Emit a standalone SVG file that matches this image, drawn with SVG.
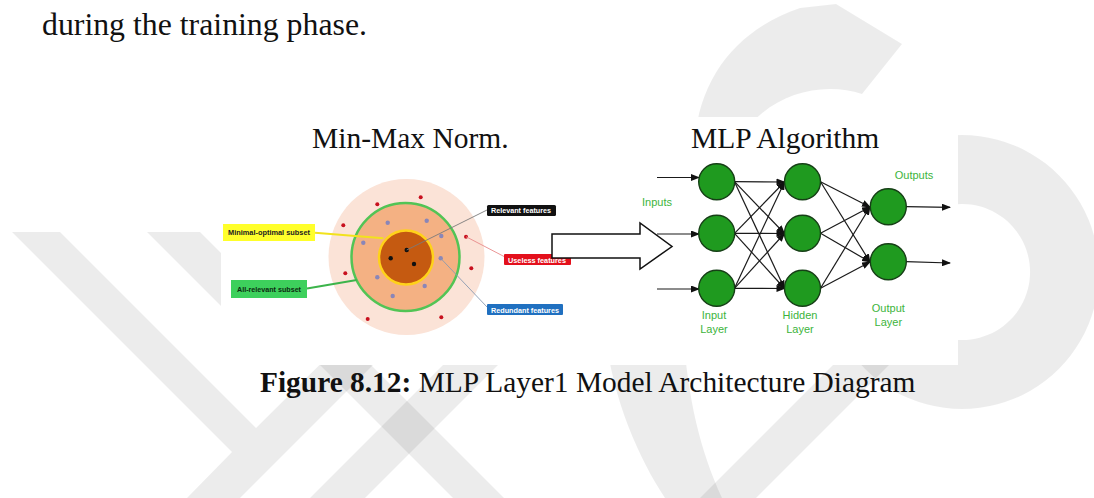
<svg xmlns="http://www.w3.org/2000/svg" width="1094" height="498" viewBox="0 0 1094 498">
<defs>
<style>
.wm{fill:#000;fill-opacity:0.075}
.serif{font-family:"Liberation Serif","Times New Roman",serif;fill:#111}
.lbl{font-family:"Liberation Sans",Arial,sans-serif;font-weight:bold;font-size:7px}
.g{font-family:"Liberation Sans",Arial,sans-serif;font-size:11px;fill:#3cb43c;text-anchor:middle}
.node{fill:#1f9a1f;stroke:#163f16;stroke-width:1.4}
.edge{stroke:#1a1a1a;stroke-width:1.2;fill:none;marker-end:url(#ah)}
.rdot{fill:#c8101e}
.pdot{fill:#8a86b8}
.bdot{fill:#111}
</style>
<marker id="ah" markerUnits="userSpaceOnUse" markerWidth="9" markerHeight="7" refX="8" refY="3.5" orient="auto"><path d="M0,0 L9,3.5 L0,7 Z" fill="#111"/></marker>
</defs>
<rect width="1094" height="498" fill="#fff"/>
<g id="watermark">
<path class="wm" d="M695,140 C700,75 740,28 800,8 L836,4 L902,44 L862,94 C820,80 765,95 740,140 Z"/>
<path class="wm" fill-rule="evenodd" d="M962,135 A137,137 0 1,1 961.9,135 Z M962,204 A68,68 0 1,0 962.1,204 Z"/>
<polygon class="wm" points="12,232 60,232 256,428 420,265 473,265 240,498 187,498 232,452"/>
<polygon class="wm" points="147,232 200,232 330,362 277,362"/>
<polygon class="wm" points="310,498 365,498 563,300 508,300"/>
<polygon class="wm" points="285,330 336,330 504,498 453,498"/>
<path class="wm" d="M605,330 C612,400 640,460 665,498 L722,498 C700,450 688,400 683,330 Z"/>
<polygon class="wm" points="700,498 756,498 889,365 833,365"/>
</g>
<rect id="figure-bg" x="221" y="117" width="737" height="248" fill="#fff"/>
<text class="serif" x="42" y="35" font-size="31.8">during the training phase.</text>
<text class="serif" x="312" y="148" font-size="29.5">Min-Max Norm.</text>
<text class="serif" x="691" y="148" font-size="29.5">MLP Algorithm</text>
<g id="feature-diagram">
<circle cx="406.5" cy="257" r="78" fill="#fbe3d7"/>
<circle cx="405.5" cy="257" r="54" fill="#f4b183" stroke="#52c455" stroke-width="2.5"/>
<circle cx="406" cy="257.5" r="27" fill="#c55a11" stroke="#ffd21a" stroke-width="2.5"/>
<g id="dots">
<circle class="rdot" cx="377.3" cy="204.3" r="2"/>
<circle class="rdot" cx="420.7" cy="197.3" r="2"/>
<circle class="rdot" cx="343.3" cy="225.3" r="2"/>
<circle class="rdot" cx="466" cy="236.7" r="2"/>
<circle class="rdot" cx="345.3" cy="273.3" r="2"/>
<circle class="rdot" cx="471.3" cy="268.3" r="2"/>
<circle class="rdot" cx="367.7" cy="319" r="2"/>
<circle class="rdot" cx="441.3" cy="317.3" r="2"/>
<circle class="pdot" cx="387.7" cy="222.7" r="2.2"/>
<circle class="pdot" cx="426.7" cy="220.7" r="2.2"/>
<circle class="pdot" cx="363.3" cy="242.7" r="2.2"/>
<circle class="pdot" cx="441.3" cy="236" r="2.2"/>
<circle class="pdot" cx="440.7" cy="258.3" r="2.2"/>
<circle class="pdot" cx="377.3" cy="277.3" r="2.2"/>
<circle class="pdot" cx="424.7" cy="286" r="2.2"/>
<circle class="pdot" cx="392.7" cy="296" r="2.2"/>
<circle class="bdot" cx="406.7" cy="250" r="2.2"/>
<circle class="bdot" cx="390.7" cy="258.3" r="2.2"/>
<circle class="bdot" cx="414" cy="264" r="2.2"/>
</g>
<g id="leaders">
<line x1="315" y1="232.7" x2="383.3" y2="238.3" stroke="#f2e21c" stroke-width="2"/>
<line x1="307" y1="288.5" x2="356.7" y2="280" stroke="#3cb44b" stroke-width="2"/>
<line x1="406.7" y1="250" x2="487" y2="210" stroke="#7a7a7a" stroke-width="0.9"/>
<line x1="466" y1="236.7" x2="505" y2="257" stroke="#e88a8a" stroke-width="0.9"/>
<line x1="440.7" y1="258.3" x2="487" y2="307" stroke="#8a9ab0" stroke-width="0.9"/>
</g>
<g id="label-minimal"><rect x="223" y="224" width="92" height="17" fill="#ffff2a"/><text class="lbl" x="228" y="235" fill="#222" textLength="82" lengthAdjust="spacingAndGlyphs">Minimal-optimal subset</text></g>
<g id="label-allrelevant"><rect x="231" y="280" width="76" height="18" fill="#3dd05c"/><text class="lbl" x="237" y="291.5" fill="#0c2a10" textLength="64" lengthAdjust="spacingAndGlyphs">All-relevant subset</text></g>
<g id="label-relevant"><rect x="487" y="205" width="69" height="11" rx="1.5" fill="#111"/><text class="lbl" x="491" y="213" fill="#fff" font-size="6" textLength="60" lengthAdjust="spacingAndGlyphs">Relevant features</text></g>
<g id="label-useless"><rect x="504" y="254" width="67" height="11" rx="1" fill="#e3101c"/><text class="lbl" x="508" y="262.5" fill="#fff" font-size="6" textLength="58" lengthAdjust="spacingAndGlyphs">Useless features</text></g>
<g id="label-redundant"><rect x="487" y="304" width="76" height="11" rx="1" fill="#2070c0"/><text class="lbl" x="491" y="312.5" fill="#fff" font-size="6" textLength="68" lengthAdjust="spacingAndGlyphs">Redundant features</text></g>
</g>
<g id="big-arrow"><path d="M552,234 L640,234 L640,223 L672,246.5 L640,269 L640,258 L552,258 Z" fill="#fff" stroke="#111" stroke-width="1.5" stroke-linejoin="miter"/></g>
<g id="connectors">
<line class="edge" x1="657" y1="177.5" x2="699" y2="177.5"/>
<line class="edge" x1="657" y1="234" x2="699" y2="234"/>
<line class="edge" x1="657" y1="289" x2="699" y2="289"/>
<line class="edge" x1="734.5" y1="181.7" x2="784.5" y2="182"/>
<line class="edge" x1="734.5" y1="181.7" x2="784.5" y2="233.5"/>
<line class="edge" x1="734.5" y1="181.7" x2="784.5" y2="288.5"/>
<line class="edge" x1="734.5" y1="233.3" x2="784.5" y2="182"/>
<line class="edge" x1="734.5" y1="233.3" x2="784.5" y2="233.5"/>
<line class="edge" x1="734.5" y1="233.3" x2="784.5" y2="288.5"/>
<line class="edge" x1="734.5" y1="288.3" x2="784.5" y2="182"/>
<line class="edge" x1="734.5" y1="288.3" x2="784.5" y2="233.5"/>
<line class="edge" x1="734.5" y1="288.3" x2="784.5" y2="288.5"/>
<line class="edge" x1="820.5" y1="181.7" x2="870" y2="207"/>
<line class="edge" x1="820.5" y1="181.7" x2="870" y2="262"/>
<line class="edge" x1="820.5" y1="233.3" x2="870" y2="207"/>
<line class="edge" x1="820.5" y1="233.3" x2="870" y2="262"/>
<line class="edge" x1="820.5" y1="288.3" x2="870" y2="207"/>
<line class="edge" x1="820.5" y1="288.3" x2="870" y2="262"/>
<line class="edge" x1="906" y1="206.7" x2="950" y2="207.3"/>
<line class="edge" x1="906" y1="261.7" x2="950" y2="263"/>
</g>
<g id="input-1"><circle class="node" cx="716.7" cy="181.7" r="18"/></g>
<g id="input-2"><circle class="node" cx="716.7" cy="233.3" r="18"/></g>
<g id="input-3"><circle class="node" cx="716.7" cy="288.3" r="18"/></g>
<g id="hidden-1"><circle class="node" cx="802.5" cy="181.7" r="18"/></g>
<g id="hidden-2"><circle class="node" cx="802.5" cy="233.3" r="18"/></g>
<g id="hidden-3"><circle class="node" cx="802.5" cy="288.3" r="18"/></g>
<g id="output-1"><circle class="node" cx="888.3" cy="206.7" r="18"/></g>
<g id="output-2"><circle class="node" cx="888.3" cy="261.7" r="18"/></g>
<g id="mlp-labels">
<text class="g" x="657" y="205.5">Inputs</text>
<text class="g" x="914" y="178.5">Outputs</text>
<text class="g" x="714" y="319">Input</text>
<text class="g" x="714" y="332.5">Layer</text>
<text class="g" x="800" y="319">Hidden</text>
<text class="g" x="800" y="332.5">Layer</text>
<text class="g" x="888.3" y="312">Output</text>
<text class="g" x="888.3" y="325.5">Layer</text>
</g>
<text class="serif" x="260" y="392" font-size="29.4"><tspan font-weight="bold">Figure 8.12:</tspan> MLP Layer1 Model Architecture Diagram</text>
</svg>
